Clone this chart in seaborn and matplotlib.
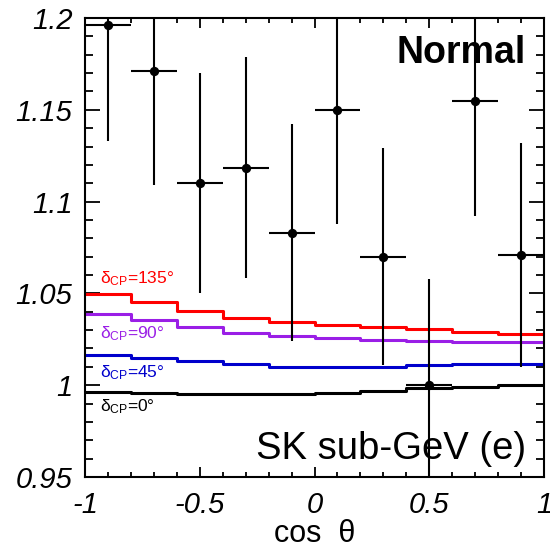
import matplotlib
matplotlib.use("Agg")
import matplotlib.pyplot as plt
import seaborn as sns
import numpy as np
import pandas as pd
from matplotlib.ticker import MultipleLocator

# ---------------- data ----------------
bin_edges = [-1.0, -0.8, -0.6, -0.4, -0.2, 0.0, 0.2, 0.4, 0.6, 0.8, 1.0]
cos_centers = [-0.9, -0.7, -0.5, -0.3, -0.1, 0.1, 0.3, 0.5, 0.7, 0.9]
ratio_data = [1.196, 1.171, 1.110, 1.1185, 1.083, 1.150, 1.070, 1.000, 1.155, 1.071]
ratio_err = [0.063, 0.062, 0.060, 0.060, 0.059, 0.062, 0.059, 0.058, 0.063, 0.061]

curve_dcp135 = [1.0497, 1.0455, 1.0406, 1.0368, 1.0346, 1.0328, 1.0315, 1.0304, 1.0291, 1.0280]
curve_dcp90 = [1.0386, 1.0353, 1.0319, 1.0283, 1.0266, 1.0255, 1.0248, 1.0242, 1.0237, 1.0233]
curve_dcp45 = [1.0165, 1.0147, 1.0132, 1.0114, 1.0097, 1.0097, 1.0101, 1.0108, 1.0114, 1.0118]
curve_dcp0 = [0.9961, 0.9956, 0.9954, 0.9954, 0.9954, 0.9959, 0.9968, 0.9983, 0.9990, 0.9999]

curve_labels = ["135°", "90°", "45°", "0°"]
curve_colors = ["#ff0000", "#9a1ee6", "#0000cc", "#000000"]
x_ticklabels = ["-1", "-0.5", "0", "0.5", "1"]
y_ticklabels = ["0.95", "1", "1.05", "1.1", "1.15", "1.2"]

# ---------------- style ----------------
sns.set_theme(style="ticks")
plt.rcParams["font.family"] = ["Liberation Sans", "DejaVu Sans"]
plt.rcParams["mathtext.fontset"] = "custom"
plt.rcParams["mathtext.rm"] = "Liberation Sans"
plt.rcParams["mathtext.it"] = "Liberation Sans:italic"
plt.rcParams["mathtext.bf"] = "Liberation Sans:bold"

fig = plt.figure(figsize=(5.5, 5.5), dpi=100)
ax = fig.add_axes([85 / 550, 1 - 477 / 550, (544 - 85) / 550, (477 - 18) / 550])

# step curves
curves = [curve_dcp135, curve_dcp90, curve_dcp45, curve_dcp0]
for vals, col in zip(curves, curve_colors):
    df = pd.DataFrame({"x": bin_edges, "y": list(vals) + [vals[-1]]})
    sns.lineplot(data=df, x="x", y="y", drawstyle="steps-post", color=col,
                 linewidth=2.2, ax=ax, estimator=None, sort=False, legend=False)

# data points with error bars
half_width = [(bin_edges[i + 1] - bin_edges[i]) / 2 for i in range(len(cos_centers))]
ax.errorbar(cos_centers, ratio_data, yerr=ratio_err, xerr=half_width, fmt="none",
            ecolor="black", elinewidth=1.5, capsize=0, zorder=5)
sns.scatterplot(x=cos_centers, y=ratio_data, color="black", s=45, edgecolor="black",
                linewidth=0, ax=ax, zorder=6, legend=False)

ax.set_xlim(-1, 1)
ax.set_ylim(0.95, 1.2)

ax.set_xticks([-1, -0.5, 0, 0.5, 1])
ax.set_xticklabels(x_ticklabels)
ax.set_yticks([0.95, 1.0, 1.05, 1.1, 1.15, 1.2])
ax.set_yticklabels(y_ticklabels)
ax.xaxis.set_minor_locator(MultipleLocator(0.1))
ax.yaxis.set_minor_locator(MultipleLocator(0.01))

ax.tick_params(axis="both", which="both", direction="in", top=True, right=True,
               color="black", width=1.3)
ax.tick_params(axis="x", which="major", length=7.5, pad=10)
ax.tick_params(axis="x", which="minor", length=3.8)
ax.tick_params(axis="y", which="major", length=11, pad=9)
ax.tick_params(axis="y", which="minor", length=5.5)
for lab in ax.get_xticklabels() + ax.get_yticklabels():
    lab.set_fontstyle("italic")
    lab.set_fontsize(21)
    lab.set_color("black")

for sp in ax.spines.values():
    sp.set_linewidth(1.5)
    sp.set_color("black")

ax.set_xlabel("cos  θ", fontsize=22, color="black", labelpad=0)
ax.set_ylabel("")

# annotations
ax.text(0.961, 0.902, "Normal", transform=ax.transAxes, ha="right", va="baseline",
        fontsize=27, fontweight="bold", color="black")
ax.text(0.96, 0.04, "SK sub-GeV (e)", transform=ax.transAxes, ha="right", va="baseline",
        fontsize=27.5, color="black")

label_y = [283, 338, 377, 411]
for lab, col, yy in zip(curve_labels, curve_colors, label_y):
    ax.text(100 / 550, 1 - yy / 550, r"$\mathrm{δ}_{\mathrm{CP}}$=" + lab,
            transform=fig.transFigure, ha="left", va="baseline", fontsize=12.5, color=col)

fig.savefig("out.png", dpi=100)
